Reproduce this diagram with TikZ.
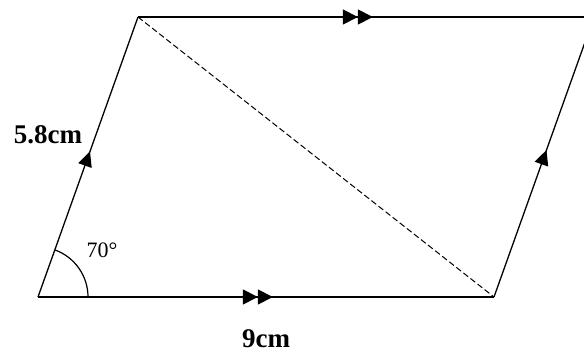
\documentclass[tikz,border=0pt]{standalone}
\usepackage{fontspec}
\setmainfont{Liberation Serif}
\usetikzlibrary{arrows.meta,decorations.markings,calc}
\begin{document}
\begin{tikzpicture}[x=1pt,y=1pt,
  edge/.style={line width=1.3pt},
  onetip/.style={postaction={decorate},decoration={markings,
     mark=at position #1 with {\arrow{Triangle[length=15pt,width=14pt]}}}},
  twotip/.style={postaction={decorate},decoration={markings,
     mark=at position #1 with {\arrow{Triangle[length=15pt,width=15pt]Triangle[length=15pt,width=15pt]}}}},
  lbl/.style={font=\bfseries\fontsize{27}{29}\selectfont, inner sep=0pt}]
\useasboundingbox (0,0) rectangle (584,354);
\begin{scope}
\clip (0,0) rectangle (584,354);
\coordinate (A) at (38,57);
\coordinate (B) at (494,57);
\coordinate (D) at (138,337);
\coordinate (C) at (594,337);
\coordinate (E) at (88,57);
\draw[edge,twotip=0.515] (A) -- (B);
\draw[edge,twotip=0.515] (D) -- (C);
\draw[edge,onetip=0.52] (A) -- (D);
\draw[edge,onetip=0.525] (B) -- (C);
\draw[line width=1pt,dash pattern=on 6pt off 3pt] (D) -- (B);
\draw[line width=1.2pt] (E) arc[start angle=0,end angle=70.3,radius=50];
\end{scope}
\node[lbl] (l58) at (48,219) {5.8cm};
\node[lbl] (l9) at (266,15) {9cm};
\node[font=\fontsize{22}{24}\selectfont, inner sep=0pt] (ang) at (102,104) {70°};
\end{tikzpicture}
\end{document}
